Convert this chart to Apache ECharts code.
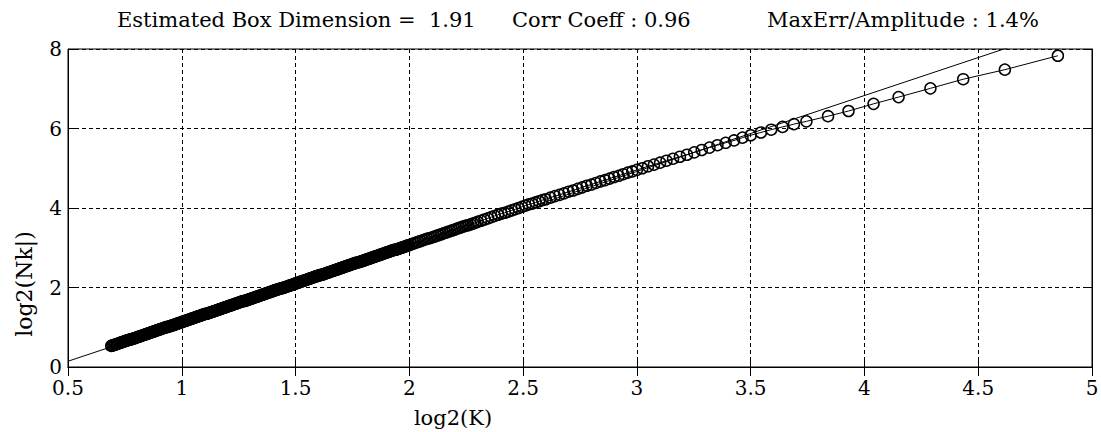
<!DOCTYPE html>
<html>
<head>
<meta charset="utf-8">
<script src="https://cdn.jsdelivr.net/npm/echarts@6/dist/echarts.min.js"></script>
<style>html,body{margin:0;padding:0;background:#fff}#c{width:1101px;height:432px}</style>
</head>
<body>
<div id="c"></div>
<script>
// log2(K) values of the measured points
const logK = [
0.690,0.695,0.700,0.705,0.710,0.715,0.720,0.725,0.730,0.735,0.740,0.745,0.750,0.755,0.760,0.765,0.770,0.775,0.780,0.785,0.790,0.795,
0.800,0.805,0.810,0.815,0.820,0.825,0.830,0.835,0.840,0.845,0.850,0.855,0.860,0.865,0.870,0.875,0.880,0.885,0.890,0.895,
0.900,0.905,0.910,0.915,0.920,0.925,0.930,0.935,0.940,0.945,0.950,0.955,0.960,0.965,0.970,0.975,0.980,0.985,0.990,0.995,
1.000,1.005,1.010,1.015,1.020,1.025,1.030,1.035,1.040,1.045,1.050,1.055,1.060,1.065,1.070,1.075,1.080,1.085,1.090,1.095,
1.100,1.105,1.110,1.115,1.120,1.125,1.130,1.135,1.140,1.145,1.150,1.155,1.160,1.165,1.170,1.175,1.180,1.185,1.190,1.195,
1.200,1.205,1.210,1.215,1.220,1.225,1.230,1.235,1.240,1.245,1.250,1.255,1.260,1.265,1.270,1.275,1.280,1.285,1.290,1.295,
1.300,1.305,1.310,1.315,1.320,1.325,1.330,1.335,1.340,1.345,1.350,1.355,1.360,1.365,1.370,1.375,1.380,1.385,1.390,1.395,
1.400,1.405,1.410,1.415,1.420,1.425,1.430,1.435,1.440,1.445,1.450,1.455,1.460,1.465,1.470,1.475,1.480,1.485,1.490,1.495,
1.500,1.505,1.510,1.515,1.520,1.525,1.530,1.535,1.540,1.545,1.550,1.555,1.560,1.565,1.570,1.575,1.580,1.585,1.590,1.595,
1.600,1.605,1.610,1.615,1.620,1.625,1.630,1.635,1.640,1.645,1.650,1.655,1.660,1.665,1.670,1.675,1.680,1.685,1.690,1.695,
1.700,1.705,1.710,1.715,1.720,1.725,1.730,1.735,1.740,1.745,1.750,1.755,1.760,1.765,1.770,1.775,1.780,1.785,1.790,1.795,
1.800,1.805,1.810,1.815,1.820,1.825,1.830,1.835,1.840,1.845,1.850,1.855,1.860,1.865,1.870,1.875,1.880,1.885,1.890,1.895,
1.900,1.905,1.910,1.915,1.920,1.925,1.930,1.935,1.940,1.945,1.950,1.955,1.960,1.965,1.970,1.975,1.980,1.985,1.990,1.995,
2.000,
2.01,2.02,2.03,2.04,2.05,2.06,2.07,2.08,2.09,2.10,2.11,2.12,2.13,2.14,2.15,2.16,2.17,2.18,2.19,2.20,
2.21,2.22,2.23,2.24,2.25,2.26,2.27,2.28,2.29,2.30,
2.315,2.33,2.345,2.36,2.375,2.39,2.405,2.42,2.435,2.45,2.465,2.48,2.495,2.51,2.525,2.54,2.555,2.57,2.585,2.60,
2.62,2.64,2.66,2.68,2.70,2.72,2.74,2.76,2.78,2.80,2.82,2.84,2.86,2.88,2.90,2.92,2.94,2.96,2.98,3.00,
3.024,3.049,3.075,3.102,3.130,3.159,3.189,3.220,3.252,3.285,3.319,3.354,3.390,3.427,3.464,3.500,
3.545,3.59,3.64,3.69,3.745,3.84,3.93,4.04,4.15,4.29,4.434,4.617,4.85
];
// log2(Nk) values of the measured points
const logNk = [
0.53,0.54,0.55,0.56,0.57,0.58,0.59,0.60,0.61,0.62,0.63,0.64,0.65,0.66,0.67,0.68,0.69,0.69,0.70,0.71,0.72,0.73,
0.74,0.75,0.76,0.77,0.78,0.79,0.80,0.81,0.82,0.83,0.84,0.85,0.86,0.87,0.88,0.89,0.90,0.91,0.92,0.93,
0.94,0.95,0.96,0.97,0.98,0.99,1.00,1.01,1.01,1.02,1.03,1.04,1.05,1.06,1.07,1.08,1.09,1.10,1.11,1.12,
1.13,1.14,1.15,1.16,1.17,1.18,1.19,1.20,1.21,1.22,1.23,1.24,1.25,1.26,1.27,1.28,1.29,1.30,1.31,1.32,
1.33,1.34,1.34,1.35,1.36,1.37,1.38,1.39,1.40,1.41,1.42,1.43,1.44,1.45,1.46,1.47,1.48,1.49,1.50,1.51,
1.52,1.53,1.54,1.55,1.56,1.57,1.58,1.59,1.60,1.61,1.62,1.63,1.64,1.65,1.66,1.66,1.67,1.68,1.69,1.70,
1.71,1.72,1.73,1.74,1.75,1.76,1.77,1.78,1.79,1.80,1.81,1.82,1.83,1.84,1.85,1.86,1.87,1.88,1.89,1.90,
1.91,1.92,1.93,1.94,1.95,1.96,1.97,1.98,1.98,1.99,2.00,2.01,2.02,2.03,2.04,2.05,2.06,2.07,2.08,2.09,
2.10,2.11,2.12,2.13,2.14,2.15,2.16,2.17,2.18,2.19,2.20,2.21,2.22,2.23,2.24,2.25,2.26,2.27,2.28,2.29,
2.30,2.31,2.31,2.32,2.33,2.34,2.35,2.36,2.37,2.38,2.39,2.40,2.41,2.42,2.43,2.44,2.45,2.46,2.47,2.48,
2.49,2.50,2.51,2.52,2.53,2.54,2.55,2.56,2.57,2.58,2.59,2.60,2.61,2.62,2.63,2.63,2.64,2.65,2.66,2.67,
2.68,2.69,2.70,2.71,2.72,2.73,2.74,2.75,2.76,2.77,2.78,2.79,2.80,2.81,2.82,2.83,2.84,2.85,2.86,2.87,
2.88,2.89,2.90,2.91,2.92,2.93,2.94,2.95,2.95,2.96,2.97,2.98,2.99,3.00,3.01,3.02,3.03,3.04,3.05,3.06,
3.07,
3.09,3.11,3.13,3.15,3.17,3.19,3.21,3.23,3.24,3.26,3.28,3.30,3.32,3.34,3.36,3.38,3.40,3.42,3.44,3.46,
3.48,3.50,3.52,3.54,3.56,3.57,3.59,3.61,3.63,3.65,
3.68,3.71,3.74,3.77,3.80,3.83,3.86,3.88,3.91,3.94,3.97,4.00,4.03,4.06,4.09,4.11,4.14,4.17,4.20,4.22,
4.26,4.30,4.33,4.37,4.41,4.44,4.48,4.52,4.56,4.59,4.63,4.67,4.70,4.74,4.78,4.81,4.85,4.89,4.92,4.96,
5.00,5.05,5.09,5.14,5.19,5.24,5.29,5.34,5.40,5.46,5.52,5.58,5.64,5.70,5.77,5.83,
5.90,5.97,6.04,6.11,6.18,6.31,6.44,6.62,6.79,7.01,7.24,7.48,7.83
];
// fitted line (slope = estimated box dimension)
const fitK = [0.5, 5.0];
const fitNk = [0.145, 8.74];

const titleParts = ['Estimated Box Dimension =  1.91', 'Corr Coeff : 0.96', 'MaxErr/Amplitude : 1.4%'];
const titleLefts = [112, 507, 762];

const FONT = '"DejaVu Serif", "Liberation Serif", serif';
const chart = echarts.init(document.getElementById('c'), null, {renderer: 'svg'});

const pts = logK.map((k, i) => [k, logNk[i]]);
const fitPts = fitK.map((k, i) => [k, fitNk[i]]);

const axisCommon = {
  type: 'value',
  axisLine: {show: true, lineStyle: {color: '#000', width: 1}},
  axisTick: {show: true, inside: true, length: 9, lineStyle: {color: '#000'}},
};

chart.setOption({
  animation: false,
  backgroundColor: '#fff',
  title: titleParts.map((t, i) => ({
    text: t, left: titleLefts[i], top: 4,
    textStyle: {fontFamily: FONT, fontSize: 21, fontWeight: 'normal', color: '#000'}
  })),
  grid: {left: 68, right: 9, top: 49, bottom: 65, containLabel: false, outerBoundsMode: 'none',
         show: true, borderColor: '#000', borderWidth: 1, backgroundColor: '#fff'},
  xAxis: [
    Object.assign({}, axisCommon, {
      min: 0.5, max: 5, interval: 0.5, position: 'bottom',
      name: 'log2(K)', nameLocation: 'middle', nameGap: 39,
      nameTextStyle: {fontFamily: FONT, fontSize: 21, lineHeight: 24, color: '#000', padding: [0, 254, 0, 0]},
      axisLabel: {fontFamily: FONT, fontSize: 20, lineHeight: 16, color: '#000', margin: 13},
      splitLine: {show: true, lineStyle: {color: '#000', type: [4, 3], width: 1}}
    }),
    Object.assign({}, axisCommon, {
      min: 0.5, max: 5, interval: 0.5, position: 'top',
      axisLabel: {show: false}, splitLine: {show: false}
    })
  ],
  yAxis: [
    Object.assign({}, axisCommon, {
      min: 0, max: 8, interval: 2, position: 'left',
      name: 'log2(Nk|)', nameLocation: 'middle', nameGap: 33,
      nameTextStyle: {fontFamily: FONT, fontSize: 22, color: '#000', padding: [0, 152, 0, 0]},
      axisLabel: {fontFamily: FONT, fontSize: 20, lineHeight: 14, color: '#000', margin: 6,
                  verticalAlign: 'middle', padding: [0, 0, 4, 0]},
      splitLine: {show: true, lineStyle: {color: '#000', type: [4, 3], width: 1}}
    }),
    Object.assign({}, axisCommon, {
      min: 0, max: 8, interval: 2, position: 'right',
      axisLabel: {show: false}, splitLine: {show: false}
    })
  ],
  series: [
    {
      type: 'line', data: fitPts, symbol: 'none', clip: true,
      lineStyle: {color: '#000', width: 1}, z: 2, silent: true
    },
    {
      type: 'line', data: pts, symbol: 'circle', symbolSize: 11, showSymbol: true, clip: true,
      itemStyle: {color: 'rgba(0,0,0,0)', borderColor: '#000', borderWidth: 1.5},
      lineStyle: {color: '#000', width: 1}, z: 3, silent: true
    }
  ]
});
</script>
</body>
</html>
